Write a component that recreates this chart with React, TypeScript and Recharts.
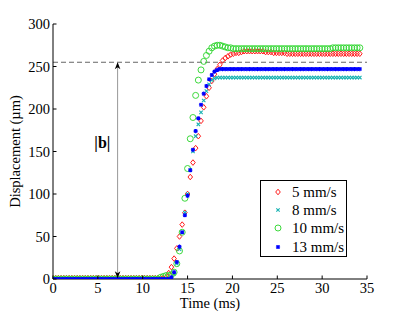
import React from 'react';
import { ScatterChart, Scatter, XAxis, YAxis, ReferenceLine } from 'recharts';

const FONT = '"Liberation Serif", "Times New Roman", serif';

const timeMs = [
  0, 0.3, 0.6, 0.9, 1.2, 1.5, 1.8, 2.1, 2.4, 2.7,
  3, 3.3, 3.6, 3.9, 4.2, 4.5, 4.8, 5.1, 5.4, 5.7,
  6, 6.3, 6.6, 6.9, 7.2, 7.5, 7.8, 8.1, 8.4, 8.7,
  9, 9.3, 9.6, 9.9, 10.2, 10.5, 10.8, 11.1, 11.4, 11.7,
  12, 12.3, 12.6, 12.9, 13.2, 13.5, 13.8, 14.1, 14.4, 14.7,
  15, 15.3, 15.6, 15.9, 16.2, 16.5, 16.8, 17.1, 17.4, 17.7,
  18, 18.3, 18.6, 18.9, 19.2, 19.5, 19.8, 20.1, 20.4, 20.7,
  21, 21.3, 21.6, 21.9, 22.2, 22.5, 22.8, 23.1, 23.4, 23.7,
  24, 24.3, 24.6, 24.9, 25.2, 25.5, 25.8, 26.1, 26.4, 26.7,
  27, 27.3, 27.6, 27.9, 28.2, 28.5, 28.8, 29.1, 29.4, 29.7,
  30, 30.3, 30.6, 30.9, 31.2, 31.5, 31.8, 32.1, 32.4, 32.7,
  33, 33.3, 33.6, 33.9, 34.2,
];

const v5 = [
  1, 1, 1, 1, 1, 1, 1, 1, 1, 1,
  1, 1, 1, 1, 1, 1, 1, 1, 1, 1,
  1, 1, 1, 1, 1, 1, 1, 1, 1, 1,
  1, 1, 1, 1, 1, 1, 1, 1, 1, 1,
  1, 1, 2, 7, 14, 24, 36, 50, 64, 78,
  100, 120, 137, 154, 168, 186, 202, 215, 225, 233,
  241, 247, 252, 257, 260, 262, 264, 265, 266, 266,
  267, 268, 268, 268, 268, 268, 268, 268, 268, 267,
  267, 267, 266, 266, 266, 266, 266, 265, 265, 265,
  265, 265, 265, 265, 265, 265, 265, 265, 265, 265,
  265, 265, 265, 265, 265, 265, 265, 265, 265, 265,
  265, 265, 265, 265, 265,
];

const v8 = [
  0, 0, 0, 0, 0, 0, 0, 0, 0, 0,
  0, 0, 0, 0, 0, 0, 0, 0, 0, 0,
  0, 0, 0, 0, 0, 0, 0, 0, 0, 0,
  0, 0, 0, 0, 0, 0, 0, 0, 0, 0,
  0, 0, 0, 0, 1, 6, 18, 35, 55, 78,
  100, 128, 150, 168, 182, 196, 210, 221, 229, 234,
  236, 237, 237, 237, 237, 237, 237, 237, 237, 237,
  237, 237, 237, 237, 237, 237, 237, 237, 237, 237,
  237, 237, 237, 237, 237, 237, 237, 237, 237, 237,
  237, 237, 237, 237, 237, 237, 237, 237, 237, 237,
  237, 237, 237, 237, 237, 237, 237, 237, 237, 237,
  237, 237, 237, 237, 237,
];

const v10 = [
  0, 0, 0, 0, 0, 0, 0, 0, 0, 0,
  0, 0, 0, 0, 0, 0, 0, 0, 0, 0,
  0, 0, 0, 0, 0, 0, 0, 0, 0, 0,
  0, 0, 0, 0, 0, 0, 0, 0, 0, 0,
  2, 3, 4, 4, 5, 8, 18, 33, 55, 95,
  130, 165, 190, 216, 234, 246, 256, 263, 268, 272,
  274, 275, 275, 274, 273, 272, 272, 271, 271, 271,
  271, 271, 271, 271, 271, 271, 271, 271, 271, 271,
  271, 271, 271, 271, 271, 271, 271, 271, 271, 271,
  271, 271, 271, 271, 271, 271, 271, 271, 271, 271,
  271, 271, 271, 271, 272, 272, 272, 272, 272, 272,
  272, 272, 272, 272, 272,
];

const v13 = [
  0, 0, 0, 0, 0, 0, 0, 0, 0, 0,
  0, 0, 0, 0, 0, 0, 0, 0, 0, 0,
  0, 0, 0, 0, 0, 0, 0, 0, 0, 0,
  0, 0, 0, 0, 0, 0, 0, 0, 0, 0,
  0, 0, 0, 0, 2, 8, 20, 38, 55, 75,
  98, 128, 152, 174, 189, 205, 218, 227, 235, 240,
  244, 246, 247, 247, 247, 247, 247, 247, 247, 247,
  247, 247, 247, 247, 247, 247, 247, 247, 247, 247,
  247, 247, 247, 247, 247, 247, 247, 247, 247, 247,
  247, 247, 247, 247, 247, 247, 247, 247, 247, 247,
  247, 247, 247, 247, 247, 247, 247, 247, 247, 247,
  247, 247, 247, 247, 247,
];

const xTicks = [0, 5, 10, 15, 20, 25, 30, 35];
const yTicks = [0, 50, 100, 150, 200, 250, 300];
const seriesNames = ['5 mm/s', '8 mm/s', '10 mm/s', '13 mm/s'];
const bLevel = 255;
const arrowTime = 7.2;
const arrowBottom = 1;
const bLabelPos = { t: 5.5, v: 161 };

const toPoints = (vals: number[]) => timeMs.map((t, i) => ({ t, v: vals[i] }));

const RED = '#ff1a1a';
const CYAN = '#19b3b3';
const GREEN = '#33d633';
const BLUE = '#0000ff';

const Diamond = (p: any) => {
  const { cx, cy } = p;
  return (
    <path
      d={`M${cx},${cy - 2.8}L${cx + 2.3},${cy}L${cx},${cy + 2.8}L${cx - 2.3},${cy}Z`}
      fill="none"
      stroke={RED}
      strokeWidth={1}
    />
  );
};
const Cross = (p: any) => {
  const { cx, cy } = p;
  const s = 1.7;
  return (
    <path
      d={`M${cx - s},${cy - s}L${cx + s},${cy + s}M${cx - s},${cy + s}L${cx + s},${cy - s}`}
      stroke={CYAN}
      strokeWidth={1.1}
    />
  );
};
const Circle = (p: any) => {
  const { cx, cy } = p;
  return <circle cx={cx} cy={cy} r={3} fill="none" stroke={GREEN} strokeWidth={0.95} />;
};
const Star = (p: any) => {
  const { cx, cy } = p;
  const s = 2.1;
  const d = 1.6;
  return (
    <path
      d={`M${cx},${cy - s}L${cx},${cy + s}M${cx - s},${cy}L${cx + s},${cy}M${cx - d},${cy - d}L${cx + d},${cy + d}M${cx - d},${cy + d}L${cx + d},${cy - d}`}
      stroke={BLUE}
      strokeWidth={1.1}
    />
  );
};

const ArrowHead = (p: any) => {
  const { cx, cy, payload } = p;
  const up = payload.dir === 'up';
  const h = 7;
  const w = 2.8;
  const by = up ? cy + h : cy - h;
  return <path d={`M${cx},${cy}L${cx - w},${by}L${cx},${up ? by - 2 : by + 2}L${cx + w},${by}Z`} fill="#000" />;
};

const BLabel = (p: any) => {
  const { cx, cy } = p;
  return (
    <text x={cx} y={cy} textAnchor="middle" dominantBaseline="central" fontFamily={FONT} fontSize={16} fontWeight="bold" fill="#000">
      |b|
    </text>
  );
};

const XTick = (p: any) => {
  const { x, y, payload } = p;
  return (
    <g>
      <line x1={x} x2={x} y1={y} y2={y - 3.5} stroke="#000" strokeWidth={1} />
      <text x={x} y={y + 14} textAnchor="middle" fontFamily={FONT} fontSize={14.5} fill="#000">
        {payload.value}
      </text>
    </g>
  );
};
const YTick = (p: any) => {
  const { x, y, payload } = p;
  return (
    <g>
      <line x1={x} x2={x + 3.5} y1={y} y2={y} stroke="#000" strokeWidth={1} />
      <text x={x - 3} y={y + 5} textAnchor="end" fontFamily={FONT} fontSize={14.5} fill="#000">
        {payload.value}
      </text>
    </g>
  );
};

const legendMarkers = [Diamond, Cross, Circle, Star];

const LegendBox = () => (
  <div
    style={{
      position: 'absolute',
      left: 260,
      top: 180,
      width: 85,
      height: 75,
      border: '1px solid #000',
      background: '#fff',
      fontFamily: FONT,
      fontSize: 15,
      color: '#000',
    }}
  >
    {seriesNames.map((name, i) => {
      const M = legendMarkers[i];
      const cy = 10.7 + i * 18.3;
      return (
        <div key={name} style={{ position: 'absolute', left: 0, top: cy - 9, height: 18, width: 85 }}>
          <svg width={24} height={18} style={{ position: 'absolute', left: 5, top: 0 }}>
            <M cx={12} cy={9} />
          </svg>
          <span style={{ position: 'absolute', left: 31, top: 0, lineHeight: '18px', whiteSpace: 'nowrap' }}>{name}</span>
        </div>
      );
    })}
  </div>
);

export default function App() {
  const arrowData = [
    { t: arrowTime, v: bLevel, dir: 'up' },
    { t: arrowTime, v: arrowBottom, dir: 'down' },
  ];
  return (
    <div style={{ position: 'absolute', left: 0, top: 0, width: 405, height: 314, background: '#fff' }}>
      <ScatterChart width={405} height={314} margin={{ top: 24, right: 38, bottom: 0, left: 0 }}>
        <XAxis
          type="number"
          dataKey="t"
          domain={[0, 35]}
          ticks={xTicks}
          tickSize={0}
          tickMargin={0}
          tick={<XTick />}
          axisLine={{ stroke: '#000' }}
          tickLine={false}
          height={35}
          allowDataOverflow
          label={{
            content: (lp: any) => {
              const vb = lp.viewBox;
              return (
                <text x={vb.x + vb.width / 2} y={vb.y + 28.5} textAnchor="middle" fontFamily={FONT} fontSize={14.5} fill="#000">
                  Time (ms)
                </text>
              );
            },
          }}
        />
        <YAxis
          type="number"
          dataKey="v"
          domain={[0, 300]}
          ticks={yTicks}
          tickSize={0}
          tickMargin={0}
          tick={<YTick />}
          axisLine={{ stroke: '#000' }}
          tickLine={false}
          width={53}
          allowDataOverflow
          label={{
            content: (lp: any) => {
              const vb = lp.viewBox;
              const cx = vb.x + 15;
              const cy = vb.y + vb.height / 2;
              return (
                <text
                  x={cx}
                  y={cy}
                  transform={`rotate(-90 ${cx} ${cy})`}
                  textAnchor="middle"
                  dominantBaseline="central"
                  fontFamily={FONT}
                  fontSize={14.5}
                  fill="#000"
                >
                  Displacement (µm)
                </text>
              );
            },
          }}
        />
        <ReferenceLine y={bLevel} stroke="#666" strokeDasharray="5 3" strokeWidth={1} />
        <ReferenceLine
          segment={[
            { x: arrowTime, y: arrowBottom },
            { x: arrowTime, y: bLevel },
          ]}
          stroke="#999"
          strokeWidth={1}
        />
        <Scatter name={seriesNames[0]} data={toPoints(v5)} shape={<Diamond />} isAnimationActive={false} />
        <Scatter name={seriesNames[1]} data={toPoints(v8)} shape={<Cross />} isAnimationActive={false} />
        <Scatter name={seriesNames[2]} data={toPoints(v10)} shape={<Circle />} isAnimationActive={false} />
        <Scatter name={seriesNames[3]} data={toPoints(v13)} shape={<Star />} isAnimationActive={false} />
        <Scatter data={arrowData} shape={<ArrowHead />} isAnimationActive={false} legendType="none" />
        <Scatter data={[bLabelPos]} shape={<BLabel />} isAnimationActive={false} legendType="none" />
      </ScatterChart>
      <LegendBox />
    </div>
  );
}
